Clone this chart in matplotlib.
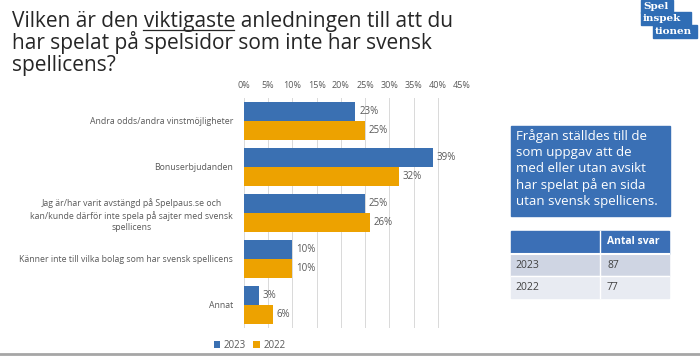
import numpy as np
import matplotlib.pyplot as plt
from matplotlib.patches import Rectangle

plt.rcParams['font.family'] = ['Open Sans', 'DejaVu Sans']

categories = ["Andra odds/andra vinstmöjligheter",
              "Bonuserbjudanden",
              "Jag är/har varit avstängd på Spelpaus.se och\nkan/kunde därför inte spela på sajter med svensk\nspellicens",
              "Känner inte till vilka bolag som har svensk spellicens",
              "Annat"]
v2023 = [23, 39, 25, 10, 3]
v2022 = [25, 32, 26, 10, 6]
ticks = [0, 5, 10, 15, 20, 25, 30, 35, 40, 45]
table_years = ["2023", "2022"]
table_counts = ["87", "77"]

c23 = '#3A70B2'
c22 = '#EDA200'
grey = '#595959'

W, H = 700, 358
fig = plt.figure(figsize=(W / 100, H / 100), dpi=100)

def px(x, y, w, h):
    return [x / W, 1 - (y + h) / H, w / W, h / H]

# title, one line at a time
title_lines = ["Vilken är den viktigaste anledningen till att du",
               "har spelat på spelsidor som inte har svensk",
               "spellicens?"]
for i, line in enumerate(title_lines):
    fig.text(12 / W, 1 - (27 + 22 * i) / H, line, fontsize=15, color='#262626',
             va='baseline', ha='left')
# underline under "viktigaste"
fig.add_artist(plt.Line2D([143 / W, 234 / W], [1 - 29.5 / H, 1 - 29.5 / H], color='#262626', lw=0.9))

# chart
ax = fig.add_axes(px(244, 98, 218, 230))
y = np.arange(len(categories))
bh = 0.41
ax.barh(y - bh / 2, v2023, height=bh, color=c23, label='2023')
ax.barh(y + bh / 2, v2022, height=bh, color=c22, label='2022')
for i in range(len(categories)):
    ax.text(v2023[i] + 0.8, y[i] - bh / 2, f"{v2023[i]}%", va='center', ha='left', fontsize=7, color=grey)
    ax.text(v2022[i] + 0.8, y[i] + bh / 2, f"{v2022[i]}%", va='center', ha='left', fontsize=7, color=grey)
ax.set_xlim(0, 45)
ax.set_ylim(len(categories) - 0.5, -0.5)
ax.set_xticks(ticks)
ax.set_xticklabels([f"{t}%" for t in ticks])
ax.xaxis.tick_top()
ax.tick_params(axis='x', length=0, labelsize=6.5, labelcolor=grey, pad=6)
ax.set_yticks(y)
ax.set_yticklabels(categories, fontsize=6.3, color=grey, linespacing=1.3)
for lab in ax.get_yticklabels():
    lab.set_multialignment('center')
ax.tick_params(axis='y', length=0, pad=8)
ax.grid(axis='x', color='#D9D9D9', lw=0.7)
ax.set_axisbelow(True)
for s in ax.spines.values():
    s.set_visible(False)
ax.legend(loc='center', bbox_to_anchor=(0.025, -0.075), ncol=2, frameon=False,
          fontsize=7, labelcolor=grey, handlelength=0.7, handleheight=0.7, columnspacing=0.8, handletextpad=0.3)

# blue info box
fig.add_artist(Rectangle((511 / W, 1 - 216 / H), 159 / W, 90 / H, transform=fig.transFigure, color='#3A70B5'))
fig.text(516 / W, 1 - 129 / H, "Frågan ställdes till de\nsom uppgav att de\nmed eller utan avsikt\nhar spelat på en sida\nutan svensk spellicens.",
         fontsize=9.5, color='white', va='top', ha='left', linespacing=1.3)

# table
rows = [('#3B6FB6', 231, 23), ('#CFD5E3', 254, 22), ('#E8EBF2', 276, 22)]
for col, ty, th in rows:
    fig.add_artist(Rectangle((511 / W, 1 - (ty + th) / H), 158 / W, th / H, transform=fig.transFigure, color=col))
fig.add_artist(plt.Line2D([600 / W, 600 / W], [1 - 298 / H, 1 - 231 / H], color='white', lw=1))
fig.add_artist(plt.Line2D([511 / W, 669 / W], [1 - 254 / H, 1 - 254 / H], color='white', lw=1.5))
fig.add_artist(plt.Line2D([511 / W, 669 / W], [1 - 276 / H, 1 - 276 / H], color='white', lw=1))
fig.text(607 / W, 1 - 242 / H, "Antal svar", fontsize=7.5, color='white', weight='bold', va='center')
for i in range(len(table_years)):
    ty = 265 + 22 * i
    fig.text(515 / W, 1 - ty / H, table_years[i], fontsize=7.5, color='#404040', va='center')
    fig.text(607 / W, 1 - ty / H, table_counts[i], fontsize=7.5, color='#404040', va='center')

# logo
logo = [("Spel", 641, 0, 32), ("inspek", 641, 12, 50), ("tionen", 653, 25, 44)]
for word, lx, ly, lw in logo:
    fig.add_artist(Rectangle((lx / W, 1 - (ly + 13) / H), lw / W, 13 / H, transform=fig.transFigure, color='#2F6DB5'))
    fig.text((lx + 2) / W, 1 - (ly + 6.5) / H, word, fontsize=7.5, color='white', va='center', ha='left',
             family='DejaVu Serif', weight='bold')

# bottom rule
fig.add_artist(plt.Line2D([0, 1], [1 - 354 / H, 1 - 354 / H], color='#A6A6A6', lw=2))

fig.savefig('out.png', dpi=100)
